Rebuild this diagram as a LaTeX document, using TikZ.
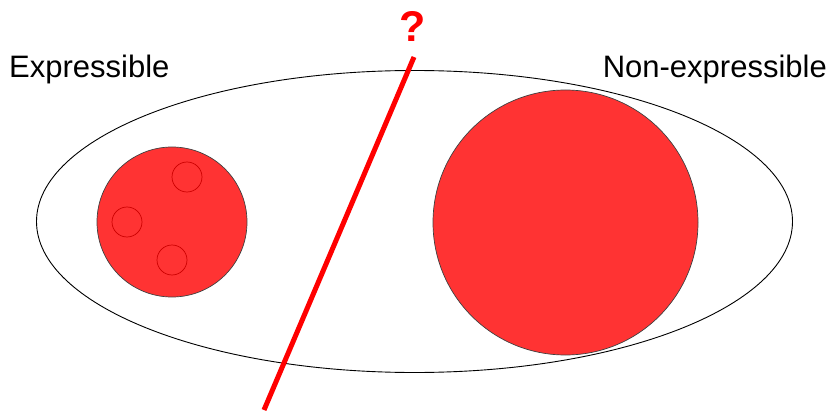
\documentclass[tikz,border=0pt]{standalone}
\usepackage{fontspec}
\setmainfont{Liberation Sans}
\usepackage{xcolor}
\usetikzlibrary{positioning}
\definecolor{setred}{HTML}{FF3333}
\definecolor{subred}{HTML}{CC0000}
\definecolor{cutred}{HTML}{FF0000}

\begin{document}
\begin{tikzpicture}[
  x=1pt, y=1pt,
  lbl/.style={font=\fontsize{31}{36}\selectfont, inner sep=0pt},
  bigset/.style={circle, draw=black!75, line width=0.7pt, fill=setred, inner sep=0pt},
  subset/.style={circle, draw=subred, line width=0.7pt, inner sep=0pt, minimum size=30pt},
  cut/.style={cutred, line width=5pt}
]
  \useasboundingbox (0,0) rectangle (835,413);
  % the universe of things
  \draw[black, line width=0.9pt] (414.5,191.5) ellipse [x radius=378, y radius=151];
  \node[bigset, minimum size=150pt] (expr) at (172,191) {};
  \node[bigset, minimum size=265pt] (nonexpr) at (565.5,190.5) {};
  \node[subset] (sa) at (187,236) {};
  \node[subset] (sb) at (127,191) {};
  \node[subset] (sc) at (172,153) {};
  % labels
  \node[lbl, anchor=base west] (exprlbl) at (9,335) {Expressible};
  \node[lbl, anchor=base east] (nonexprlbl) at (827,335) {Non-expressible};
  % the dividing line
  \coordinate (top) at (414,356);
  \coordinate (bot) at (264,3);
  \draw[cut] (top) -- (bot);
  \node[text=cutred, font=\bfseries\fontsize{43}{48}\selectfont, inner sep=0pt,
        anchor=base] (q) at (413,371) {?};
\end{tikzpicture}
\end{document}
